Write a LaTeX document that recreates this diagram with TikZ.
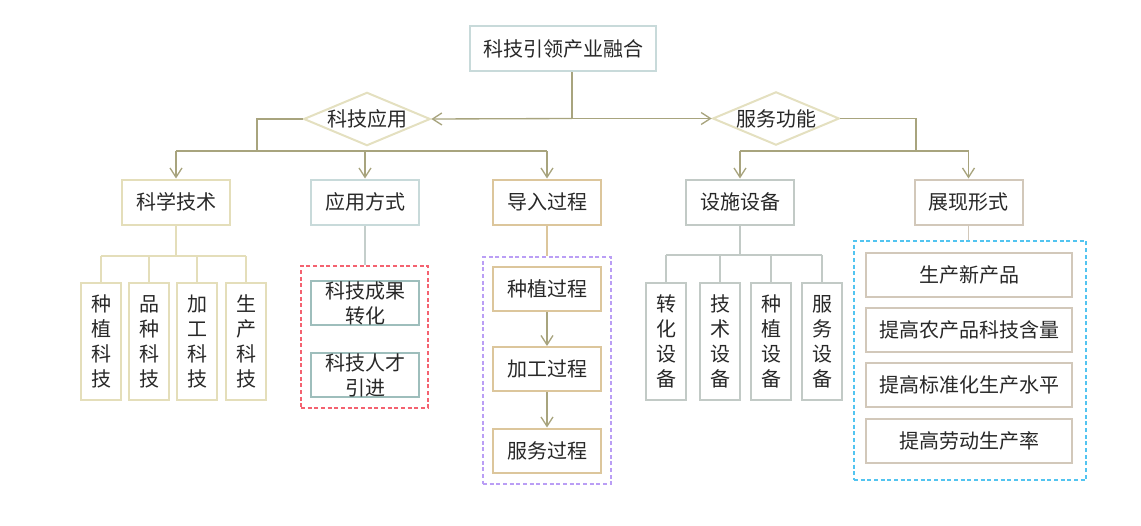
\documentclass[tikz,border=0pt]{standalone}
\usepackage{fontspec}
\setmainfont{Noto Sans CJK SC}
\usetikzlibrary{arrows.meta, shapes.geometric, positioning}
\definecolor{linec}{RGB}{168,164,126}
\definecolor{diamc}{RGB}{228,224,192}
\definecolor{rootc}{RGB}{200,218,218}
\definecolor{scic}{RGB}{228,222,186}
\definecolor{wayc}{RGB}{200,218,218}
\definecolor{waykid}{RGB}{158,190,188}
\definecolor{wayline}{RGB}{196,206,203}
\definecolor{impc}{RGB}{220,198,156}
\definecolor{facc}{RGB}{194,202,198}
\definecolor{showc}{RGB}{210,200,186}
\definecolor{redd}{RGB}{244,98,112}
\definecolor{purpd}{RGB}{186,158,245}
\definecolor{cyand}{RGB}{82,196,240}
\definecolor{txt}{RGB}{40,40,40}

\begin{document}
\begin{tikzpicture}[x=0.75pt, y=-0.75pt,
    every node/.style={text=txt, font=\fontsize{15}{18.75}\selectfont},
    box/.style={draw, line width=1.5pt, fill=white, inner sep=0pt, align=center, minimum width=81pt, minimum height=33.75pt},
    vbox/.style={draw, line width=1.5pt, inner sep=0pt, align=center, minimum width=30pt, minimum height=87.75pt},
    wide/.style={draw, line width=1.5pt, inner sep=0pt, align=center, minimum width=154.5pt, minimum height=33pt},
    dia/.style={draw=diamc, line width=1.5pt, fill=white, diamond, aspect=2.4, inner sep=0pt, minimum width=95pt, minimum height=40pt},
    grp/.style={draw, dashed, line width=0.8pt, dash pattern=on 3pt off 2pt},
    line/.style={draw=linec, line width=1pt},
    arr/.style={line, -{Straight Barb[length=7pt, width=9pt]}}
]
\useasboundingbox (0,0) rectangle (1141,525);

% top
\node[box, draw=rootc, minimum width=139.5pt] (root) at (563,48.5) {科技引领产业融合};
\node[dia] (app) at (367,119) {科技应用};
\node[dia] (svc) at (776,118.5) {服务功能};
\coordinate (hub) at (572,118.5);
\draw[line] (root.south -| hub) -- (hub);
\draw[arr] (hub) -- (app.east);
\draw[arr] (hub) -- (svc.west);

% second level
\node[box, draw=scic] (sci) at (176,202) {科学技术};
\node[box, draw=wayc] (way) at (365,202) {应用方式};
\node[box, draw=impc] (imp) at (547,202) {导入过程};
\node[box, draw=facc] (fac) at (740,202) {设施设备};
\node[box, draw=showc] (show) at (968.5,202) {展现形式};

\coordinate (lbus) at (257,151);
\coordinate (rbus) at (916,151);
\draw[line] (app.west) -| (lbus);
\draw[line] (sci |- lbus) -- (imp |- lbus);
\draw[arr] (sci |- lbus) -- (sci.north);
\draw[arr] (way |- lbus) -- (way.north);
\draw[arr] (imp |- lbus) -- (imp.north);
\draw[line] (svc.east) -| (rbus);
\draw[line] (fac |- rbus) -- (show |- rbus);
\draw[arr] (fac |- rbus) -- (fac.north);
\draw[arr] (show |- rbus) -- (show.north);

% 科学技术
\node[vbox, draw=scic] (st1) at (101,341.5) {种\\植\\科\\技};
\node[vbox, draw=scic] (st2) at (149,341.5) {品\\种\\科\\技};
\node[vbox, draw=scic] (st3) at (197,341.5) {加\\工\\科\\技};
\node[vbox, draw=scic] (st4) at (246,341.5) {生\\产\\科\\技};
\coordinate (scibus) at (176,256);
\draw[draw=scic, line width=1pt] (sci.south) -- (scibus);
\draw[draw=scic, line width=1pt] (st1 |- scibus) -- (st4 |- scibus);
\foreach \i in {1,...,4}
  \draw[draw=scic, line width=1pt] (st\i |- scibus) -- (st\i.north);

% 应用方式
\node[grp, draw=redd, minimum width=95.25pt, minimum height=106.5pt] (waygrp) at (364.5,337) {};
\node[box, draw=waykid, minimum height=33pt] (way1) at (365,303) {科技成果\\转化};
\node[box, draw=waykid, minimum height=33pt] (way2) at (365,375) {科技人才\\引进};
\draw[draw=wayline, line width=1pt] (way.south) -- (way.south |- waygrp.north);

% 导入过程
\node[grp, draw=purpd, minimum width=96pt, minimum height=170.25pt] (impgrp) at (547,370.5) {};
\node[box, draw=impc, minimum height=33pt] (imp1) at (547,289) {种植过程};
\node[box, draw=impc, minimum height=33pt] (imp2) at (547,369) {加工过程};
\node[box, draw=impc, minimum height=33pt] (imp3) at (547,450.5) {服务过程};
\draw[draw=impc, line width=1pt] (imp.south) -- (impgrp.north);
\draw[arr] (imp1) -- (imp2);
\draw[arr] (imp2) -- (imp3);

% 设施设备
\node[vbox, draw=facc] (fac1) at (666,341.5) {转\\化\\设\\备};
\node[vbox, draw=facc] (fac2) at (720,341.5) {技\\术\\设\\备};
\node[vbox, draw=facc] (fac3) at (771,341.5) {种\\植\\设\\备};
\node[vbox, draw=facc] (fac4) at (822,341.5) {服\\务\\设\\备};
\coordinate (facbus) at (740,255);
\draw[draw=facc, line width=1pt] (fac.south) -- (facbus);
\draw[draw=facc, line width=1pt] (fac1 |- facbus) -- (fac4 |- facbus);
\foreach \i in {1,...,4}
  \draw[draw=facc, line width=1pt] (fac\i |- facbus) -- (fac\i.north);

% 展现形式
\node[grp, draw=cyand, minimum width=174pt, minimum height=179.25pt] (showgrp) at (970,360.5) {};
\node[wide, draw=showc] (show1) at (969,275) {生产新产品};
\node[wide, draw=showc] (show2) at (969,330) {提高农产品科技含量};
\node[wide, draw=showc] (show3) at (969,385) {提高标准化生产水平};
\node[wide, draw=showc] (show4) at (969,441) {提高劳动生产率};
\draw[draw=showc, line width=1pt] (show.south) -- (show.south |- showgrp.north);
\end{tikzpicture}
\end{document}
